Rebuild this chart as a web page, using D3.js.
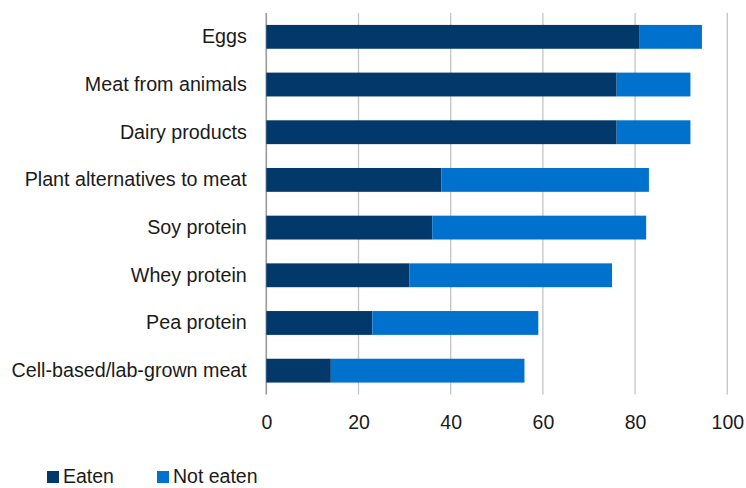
<!DOCTYPE html>
<html><head><meta charset="utf-8">
<script src="https://cdn.jsdelivr.net/npm/d3@7"></script>
<style>body{margin:0;background:#fff}svg{display:block}text{font-family:"Liberation Sans",Arial,sans-serif;fill:#1a1a1a}</style>
</head><body><svg id="c" width="746" height="488"></svg>
<script>
const categories = ["Eggs","Meat from animals","Dairy products","Plant alternatives to meat","Soy protein","Whey protein","Pea protein","Cell-based/lab-grown meat"];
const eaten = [81,76,76,38,36,31,23,14];
const notEaten = [13.5,16,16,45,46.4,44,36,42];
const seriesNames = ["Eaten","Not eaten"];
const xTicks = [0,20,40,60,80,100];
const colors = ["#02386a","#0072ce"];

const svg = d3.select("#c");
const pL = 266.3, pR = 727.3, pT = 13, pB = 394.5;
const x = d3.scaleLinear().domain([0,100]).range([pL,pR]);
const y = d3.scaleBand().domain(categories).range([pT,pB]).paddingInner(0.5).paddingOuter(0.25);

// gridlines
svg.append("g").selectAll("line").data(xTicks).join("line")
  .attr("x1",d=>x(d)).attr("x2",d=>x(d)).attr("y1",pT).attr("y2",pB)
  .attr("stroke",d=>d===0?"#9a9a9a":"#c4c4c4").attr("stroke-width",d=>d===0?1.6:1.3);

const rows = categories.map((c,i)=>({c,e:eaten[i],n:notEaten[i]}));
const g = svg.append("g");
g.selectAll("rect.e").data(rows).join("rect").attr("class","e")
  .attr("x",x(0)).attr("y",d=>y(d.c)).attr("height",y.bandwidth())
  .attr("width",d=>x(d.e)-x(0)).attr("fill",colors[0]);
g.selectAll("rect.n").data(rows).join("rect").attr("class","n")
  .attr("x",d=>x(d.e)).attr("y",d=>y(d.c)).attr("height",y.bandwidth())
  .attr("width",d=>x(d.e+d.n)-x(d.e)).attr("fill",colors[1]);

// x axis labels
const xa = svg.append("g").attr("transform",`translate(0,${pB})`)
  .call(d3.axisBottom(x).tickValues(xTicks).tickSize(0).tickPadding(20.5));
xa.select(".domain").remove();
xa.selectAll("text").style("font-size","19.5px").attr("fill","#1a1a1a").style("font-family",'"Liberation Sans",Arial,sans-serif');

// y labels
const ya = svg.append("g").attr("transform",`translate(${pL},0)`)
  .call(d3.axisLeft(y).tickSize(0).tickPadding(19.5));
ya.select(".domain").remove();
ya.selectAll("text").style("font-size","19.7px").attr("fill","#1a1a1a").style("font-family",'"Liberation Sans",Arial,sans-serif');

// legend
const lg = svg.append("g");
const lx = [47,157];
seriesNames.forEach((s,i)=>{
  lg.append("rect").attr("x",lx[i]).attr("y",471).attr("width",12).attr("height",12).attr("fill",colors[i]);
  lg.append("text").attr("x",lx[i]+16).attr("y",483).style("font-size","19.5px").text(s);
});
</script></body></html>
